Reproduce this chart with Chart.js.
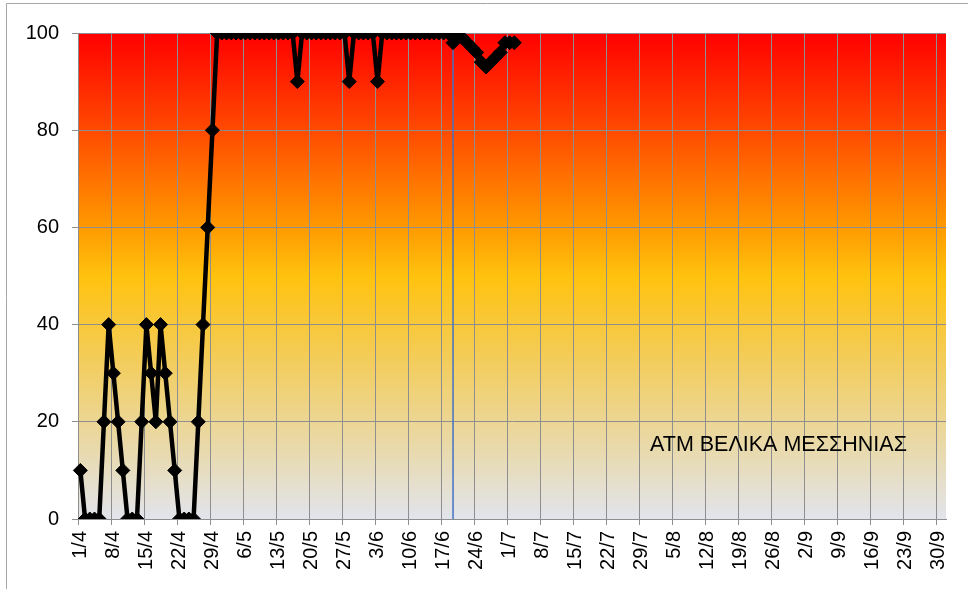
<!DOCTYPE html>
<html>
<head>
<meta charset="utf-8">
<title>ΑΤΜ ΒΕΛΙΚΑ ΜΕΣΣΗΝΙΑΣ</title>
<script src="https://cdn.jsdelivr.net/npm/chart.js@4"></script>
<style>
    html, body { margin: 0; padding: 0; background: #fff; }
    #chart { display: block; }
</style>
</head>
<body>
<canvas id="chart" width="968" height="589"></canvas>
<script>
// Daily categories: 1/4 .. 30/9 plus 1/10
const monthNumbers = [4, 5, 6, 7, 8, 9];
const monthLengths = [30, 31, 30, 31, 31, 30];
const extraDays = ['1/10'];

// Readings from 1/4 onwards (one per day), later days not yet recorded
const dailyValues = [
    10, 0, 0, 0, 0, 20, 40, 30, 20, 10,
    0, 0, 0, 20, 40, 30, 20, 40, 30, 20,
    10, 0, 0, 0, 0, 20, 40, 60, 80, 100,
    100, 100, 100, 100, 100, 100, 100, 100, 100, 100,
    100, 100, 100, 100, 100, 100, 90, 100, 100, 100,
    100, 100, 100, 100, 100, 100, 100, 90, 100, 100,
    100, 100, 100, 90, 100, 100, 100, 100, 100, 100,
    100, 100, 100, 100, 100, 100, 100, 100, 100, 98,
    100, 99, 98, 97, 96, 94, 93, 94, 95, 96,
    98, 98, 98
];

const markerDate = '19/6'; // blue vertical line
const yTicks = [0, 20, 40, 60, 80, 100];
const labelEvery = 7;
const chartTitle = 'ΑΤΜ ΒΕΛΙΚΑ ΜΕΣΣΗΝΙΑΣ';

document.addEventListener('DOMContentLoaded', () => {
    const canvas = document.getElementById('chart');

    const categories = [];
    monthNumbers.forEach((m, i) => {
        for (let d = 1; d <= monthLengths[i]; d++) categories.push(d + '/' + m);
    });
    extraDays.forEach(d => categories.push(d));

    const gridColor = '#8e8e8e';
    const everyWeek = ctx => (ctx.index % labelEvery === 0 && ctx.index < categories.length) ? gridColor : 'rgba(0,0,0,0)';

    // background, frame and gradient plot area
    const backdrop = {
        id: 'backdrop',
        beforeDraw(chart) {
            const { ctx, chartArea: a } = chart;
            ctx.save();
            ctx.fillStyle = '#fff';
            ctx.fillRect(0, 0, chart.width, chart.height);
            ctx.strokeStyle = '#a6a6a6';
            ctx.lineWidth = 1;
            ctx.beginPath();
            ctx.moveTo(6.5, chart.height);
            ctx.lineTo(6.5, 3.5);
            ctx.lineTo(chart.width, 3.5);
            ctx.stroke();

            const g = ctx.createLinearGradient(0, a.top, 0, a.bottom);
            g.addColorStop(0, '#ff0000');
            g.addColorStop(0.2, '#ff4a00');
            g.addColorStop(0.4, '#ff9a00');
            g.addColorStop(0.5, '#ffc20e');
            g.addColorStop(0.72, '#f0d070');
            g.addColorStop(1, '#e1e4ec');
            ctx.fillStyle = g;
            ctx.fillRect(a.left, a.top, a.right - a.left, a.bottom - a.top);
            ctx.restore();
        },
        afterDatasetsDraw(chart) {
            const { ctx, chartArea: a } = chart;
            ctx.save();
            ctx.fillStyle = '#000';
            ctx.font = '21.5px "Liberation Sans", Arial, sans-serif';
            ctx.textBaseline = 'alphabetic';
            ctx.fillText(chartTitle, a.left + 572, a.top + 418);
            ctx.restore();
        }
    };

    new Chart(canvas.getContext('2d'), {
        type: 'line',
        data: {
            labels: categories,
            datasets: [
                {
                    label: chartTitle,
                    data: dailyValues,
                    borderColor: '#000',
                    borderWidth: 4.5,
                    backgroundColor: '#000',
                    pointStyle: 'rectRot',
                    pointRadius: 7,
                    pointBorderWidth: 1,
                    pointBorderColor: '#000',
                    pointBackgroundColor: '#000',
                    tension: 0,
                    order: 1
                },
                {
                    label: 'marker',
                    data: [{ x: markerDate, y: yTicks[0] }, { x: markerDate, y: yTicks[yTicks.length - 1] }],
                    borderColor: '#4472c4',
                    borderWidth: 1.5,
                    pointRadius: 0,
                    order: 2
                }
            ]
        },
        options: {
            responsive: false,
            animation: false,
            layout: { padding: { left: 0, top: 33, right: 22, bottom: 0 } },
            plugins: {
                legend: { display: false },
                tooltip: { enabled: false }
            },
            scales: {
                x: {
                    type: 'category',
                    offset: true,
                    grid: {
                        offset: true,
                        color: everyWeek,
                        tickColor: everyWeek,
                        tickLength: 6,
                        lineWidth: 1
                    },
                    border: { color: gridColor },
                    ticks: {
                        autoSkip: false,
                        minRotation: 90,
                        maxRotation: 90,
                        padding: 6,
                        color: '#000',
                        font: { family: '"Liberation Sans", Arial, sans-serif', size: 20 },
                        callback: (val, i) => (i % labelEvery === 0 ? categories[i] : '')
                    },
                    afterFit: scale => {
                        scale.height = 70;
                        scale.paddingLeft = 0;
                        scale.paddingRight = 0;
                    }
                },
                y: {
                    min: yTicks[0],
                    max: yTicks[yTicks.length - 1],
                    grid: { color: gridColor, tickColor: gridColor, tickLength: 6 },
                    border: { color: gridColor },
                    ticks: {
                        stepSize: 20,
                        padding: 13,
                        color: '#000',
                        font: { family: '"Liberation Sans", Arial, sans-serif', size: 20 }
                    },
                    afterFit: scale => {
                        scale.width = 78;
                        scale.paddingTop = 0;
                        scale.paddingBottom = 0;
                    }
                }
            }
        },
        plugins: [backdrop]
    });
});
</script>
</body>
</html>
